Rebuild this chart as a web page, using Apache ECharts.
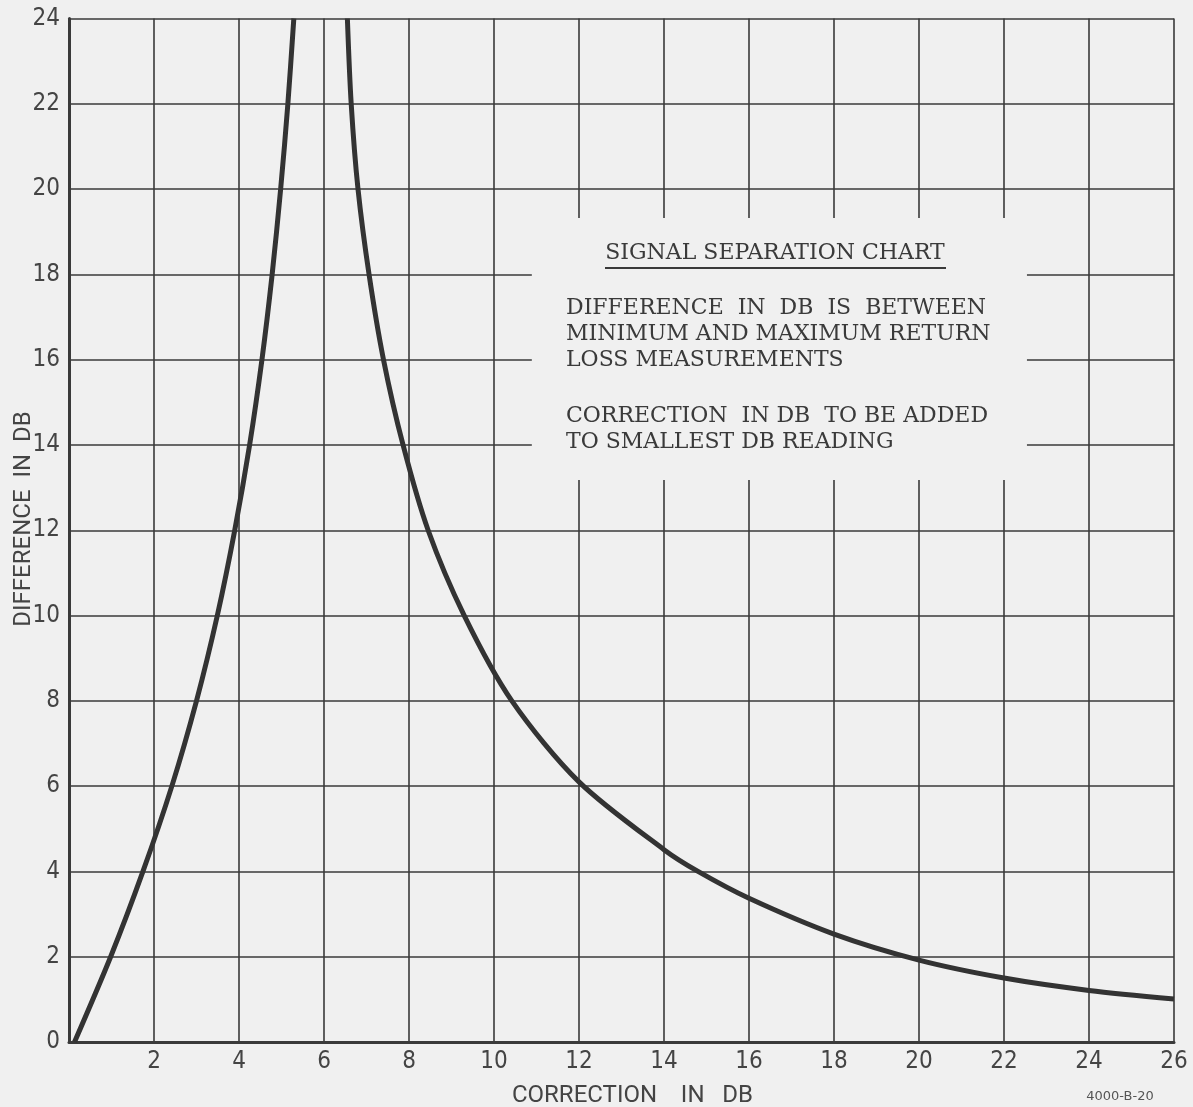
<!DOCTYPE html>
<html>
<head>
<meta charset="utf-8">
<script src="https://cdn.jsdelivr.net/npm/echarts@6/dist/echarts.min.js"></script>
<style>
html,body{margin:0;padding:0;background:#f0f0f0;}
#c{width:1193px;height:1107px;}
</style>
</head>
<body>
<div id="c"></div>
<script>
// Left branch: difference (y) rises steeply as correction (x) goes 0 -> ~5.3
const leftBranch = [
  [0.13, 0], [0.98, 2], [1.74, 4], [2.42, 6], [3.00, 8], [3.49, 10],
  [3.90, 12], [4.25, 14], [4.54, 16], [4.78, 18], [4.98, 20], [5.15, 22], [5.29, 24]
];
// Right branch: difference falls from 24 to ~1 as correction goes ~6.5 -> 26
const rightBranch = [
  [6.55, 24], [6.64, 22], [6.80, 20], [7.06, 18], [7.40, 16], [7.86, 14],
  [8.45, 12], [9.30, 10], [10.42, 8], [12, 6.10], [14, 4.51],
  [14.8, 4], [16, 3.37], [18, 2.53], [20, 1.92], [22, 1.50], [24, 1.21], [26, 1.01]
];
const xAxisTitle = 'CORRECTION    IN   DB';
const yAxisTitle = 'DIFFERENCE  IN  DB';
const noteTitle = 'SIGNAL SEPARATION CHART';
const noteBlock1 = ['DIFFERENCE  IN  DB  IS  BETWEEN', 'MINIMUM AND MAXIMUM RETURN', 'LOSS MEASUREMENTS'];
const noteBlock2 = ['CORRECTION  IN DB  TO BE ADDED', 'TO SMALLEST DB READING'];
const drawingNumber = '4000-B-20';

const BG = '#f0f0f0';
const INK = '#3a3a3a';
const labelFont = "'Liberation Sans Narrow', 'DejaVu Sans Condensed', 'Roboto', sans-serif";
const titleFont = "'Roboto', 'DejaVu Sans', sans-serif";
const serif = "'DejaVu Serif', 'Liberation Serif', serif";

const chart = echarts.init(document.getElementById('c'), null, {renderer: 'canvas'});

const noteTexts = [];
noteTexts.push({
  type: 'text', x: 775, y: 253, z: 100,
  style: {text: noteTitle, font: '22px ' + serif, fill: INK, align: 'center', verticalAlign: 'middle'}
});
noteTexts.push({
  type: 'line', z: 100,
  shape: {x1: 605, y1: 268, x2: 946, y2: 268},
  style: {stroke: INK, lineWidth: 2}
});
const block1Y = [308, 334, 360];
noteBlock1.forEach((t, i) => noteTexts.push({
  type: 'text', x: 566, y: block1Y[i], z: 100,
  style: {text: t, font: '22px ' + serif, fill: INK, align: 'left', verticalAlign: 'middle'}
}));
const block2Y = [416, 442];
noteBlock2.forEach((t, i) => noteTexts.push({
  type: 'text', x: 566, y: block2Y[i], z: 100,
  style: {text: t, font: '22px ' + serif, fill: INK, align: 'left', verticalAlign: 'middle'}
}));
noteTexts.push({
  type: 'text', x: 24, y: 519, z: 100, rotation: Math.PI / 2,
  style: {text: yAxisTitle, font: '24px ' + titleFont, fill: '#444', align: 'center', verticalAlign: 'middle'}
});
noteTexts.push({
  type: 'text', x: 1120, y: 1097, z: 100,
  style: {text: drawingNumber, font: '13px ' + "'DejaVu Sans', sans-serif", fill: '#555', align: 'center', verticalAlign: 'middle'}
});

chart.setOption({
  backgroundColor: BG,
  animation: false,
  grid: {left: 69, right: 19, top: 18.5, bottom: 65, containLabel: false, outerBoundsMode: 'none'},
  xAxis: {
    type: 'value', min: 0, max: 26, interval: 2,
    name: xAxisTitle, nameLocation: 'middle', nameGap: 42,
    nameTextStyle: {fontFamily: titleFont, fontSize: 24, color: '#444', padding: [0, 0, 0, 22]},
    axisLine: {show: true, onZero: false, lineStyle: {color: INK, width: 3}},
    axisTick: {show: false},
    axisLabel: {
      margin: 8, fontFamily: labelFont, fontSize: 24, color: '#444',
      formatter: v => (v === 0 ? '' : String(v))
    },
    splitLine: {show: true, lineStyle: {color: INK, width: 1.6}}
  },
  yAxis: {
    type: 'value', min: 0, max: 24, interval: 2,
    axisLine: {show: true, onZero: false, lineStyle: {color: INK, width: 3}},
    axisTick: {show: false},
    axisLabel: {margin: 9, fontFamily: labelFont, fontSize: 24, color: '#444'},
    splitLine: {show: true, lineStyle: {color: INK, width: 1.6}}
  },
  graphic: noteTexts,
  series: [
    {
      type: 'line', data: leftBranch, smooth: 0.3, showSymbol: false,
      lineStyle: {color: '#333', width: 5}, clip: true
    },
    {
      type: 'line', data: rightBranch, smooth: 0.3, showSymbol: false,
      lineStyle: {color: '#333', width: 5}, clip: true,
      markArea: {
        silent: true,
        itemStyle: {color: BG, opacity: 1, borderWidth: 0},
        data: [[{coord: [10.89, 19.32]}, {coord: [22.54, 13.18]}]]
      }
    }
  ]
});
</script>
</body>
</html>
